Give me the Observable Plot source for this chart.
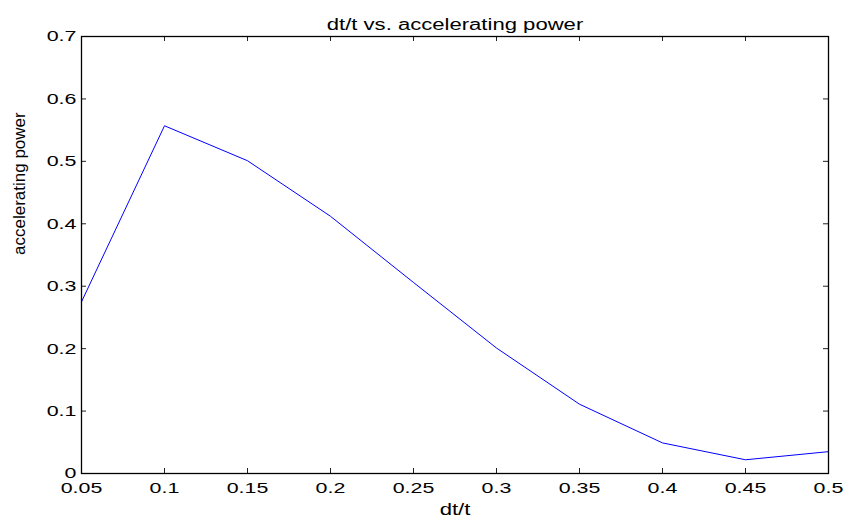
<!DOCTYPE html>
<html><head><meta charset="utf-8">
<script src="https://cdn.jsdelivr.net/npm/d3@7"></script>
<script src="https://cdn.jsdelivr.net/npm/@observablehq/plot@0.6"></script>
<style>
html,body{margin:0;padding:0;background:#fff;}
svg{font-family:Arial,"Liberation Sans",Helvetica,sans-serif;}
</style></head>
<body><div id="chart"></div>
<script>
const titleText = "dt/t vs. accelerating power";
const xLabel = "dt/t";
const yLabel = "accelerating power";
const dtOverT = [0.05, 0.1, 0.15, 0.2, 0.25, 0.3, 0.35, 0.4, 0.45, 0.5];
const accelPower = [0.275, 0.557, 0.501, 0.412, 0.306, 0.201, 0.111, 0.049, 0.022, 0.035];
const xTicks = [0.05, 0.1, 0.15, 0.2, 0.25, 0.3, 0.35, 0.4, 0.45, 0.5];
const yTicks = [0, 0.1, 0.2, 0.3, 0.4, 0.5, 0.6, 0.7];

const data = dtOverT.map((x, i) => ({x, y: accelPower[i]}));
const fmt = d => String(d);
const W = 847, H = 519, ML = 81, MR = 19, MT = 36, MB = 46;
const fw = W - ML - MR, fh = H - MT - MB, tk = 5;

const plot = Plot.plot({
  width: W, height: H,
  marginLeft: ML, marginRight: MR, marginTop: MT, marginBottom: MB,
  style: {fontSize: "15.5px", color: "#000", background: "#fff"},
  x: {domain: [0.05, 0.5]},
  y: {domain: [0, 0.7]},
  marks: [
    Plot.line(data, {x: "x", y: "y", stroke: "#0000ff", strokeWidth: 1}),
    Plot.tickX(xTicks, {x: d => d, insetTop: fh - tk, stroke: "#222"}),
    Plot.tickX(xTicks, {x: d => d, insetBottom: fh - tk, stroke: "#222"}),
    Plot.tickY(yTicks, {y: d => d, insetRight: fw - tk, stroke: "#222"}),
    Plot.tickY(yTicks, {y: d => d, insetLeft: fw - tk, stroke: "#222"}),
    Plot.frame({stroke: "#000", strokeWidth: 1.3}),
    Plot.axisX({anchor: "bottom", ticks: xTicks, tickFormat: fmt, tickSize: 0, tickPadding: 8, fontSize: 15.5,
      label: null, className: "stretch"}),
    Plot.axisY({anchor: "left", ticks: yTicks, tickFormat: fmt, tickSize: 0, tickPadding: 5, fontSize: 15.5,
      label: null, className: "stretch"}),
    Plot.text([xLabel], {frameAnchor: "bottom", dy: 41, fontSize: 16, fill: "#000", className: "stretch"}),
    Plot.text([yLabel], {frameAnchor: "left", dx: -62, rotate: -90, fontSize: 17, fill: "#000"}),
    Plot.text([titleText], {frameAnchor: "top", dy: -18, fontSize: 16, fill: "#000", className: "stretch"})
  ]
});
document.getElementById("chart").appendChild(plot);
// the reference's lettering is horizontally widened; mimic with textLength
const widen = 1.38;
d3.select(plot).selectAll("[class^='stretch'] text, text[class^='stretch'], g[class*='stretch'] text").each(function() {
  const len = this.getComputedTextLength();
  if (len > 0) {
    this.setAttribute("textLength", (len * widen).toFixed(1));
    this.setAttribute("lengthAdjust", "spacingAndGlyphs");
  }
});
</script></body></html>
